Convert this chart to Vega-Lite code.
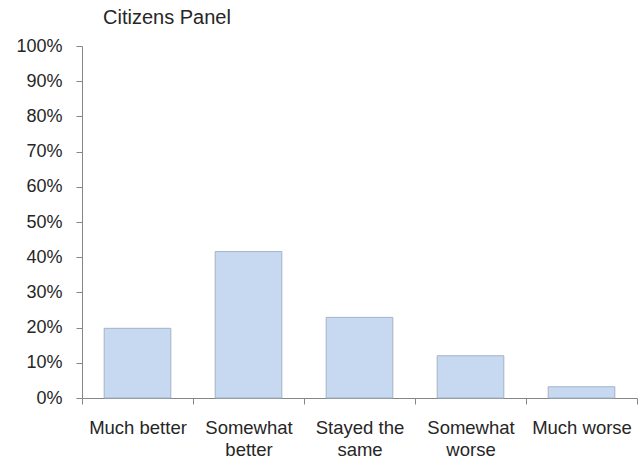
{
  "$schema": "https://vega.github.io/schema/vega-lite/v6.json",
  "width": 555,
  "height": 352,
  "autosize": "none",
  "padding": {"left": 82, "top": 46, "right": 2, "bottom": 67},
  "background": "white",
  "title": {"text": "Citizens Panel", "anchor": "start", "frame": "group", "dx": 21, "fontSize": 20, "font": "Liberation Sans", "fontWeight": "normal", "color": "#262626", "offset": 9},
  "data": {"values": [
    {"category": "Much better", "value": 0.198},
    {"category": "Somewhat better", "value": 0.416},
    {"category": "Stayed the same", "value": 0.229},
    {"category": "Somewhat worse", "value": 0.12},
    {"category": "Much worse", "value": 0.032}
  ]},
  "mark": {"type": "bar", "fill": "#c6d9f1", "stroke": "#a3b3c6", "strokeWidth": 1, "width": {"band": 0.6}},
  "encoding": {
    "x": {
      "field": "category", "type": "nominal", "sort": null,
      "scale": {"paddingInner": 0, "paddingOuter": 0},
      "axis": {
        "title": null, "labelAngle": 0, "tickBand": "extent",
        "domainColor": "#868686", "tickColor": "#868686", "tickSize": 6,
        "labelFont": "Liberation Sans", "labelFontSize": 18.5, "labelColor": "#262626",
        "labelPadding": 14, "labelLineHeight": 22,
        "labelExpr": "datum.value == 'Somewhat better' ? ['Somewhat', 'better'] : datum.value == 'Stayed the same' ? ['Stayed the', 'same'] : datum.value == 'Somewhat worse' ? ['Somewhat', 'worse'] : datum.value"
      }
    },
    "y": {
      "field": "value", "type": "quantitative",
      "scale": {"domain": [0, 1], "nice": false},
      "axis": {
        "title": null, "format": ".0%", "grid": false,
        "values": [0, 0.1, 0.2, 0.3, 0.4, 0.5, 0.6, 0.7, 0.8, 0.9, 1],
        "domainColor": "#868686", "tickColor": "#868686", "tickSize": 6,
        "labelFont": "Liberation Sans", "labelFontSize": 18, "labelColor": "#262626",
        "labelPadding": 14
      }
    }
  },
  "config": {"view": {"stroke": null}}
}
